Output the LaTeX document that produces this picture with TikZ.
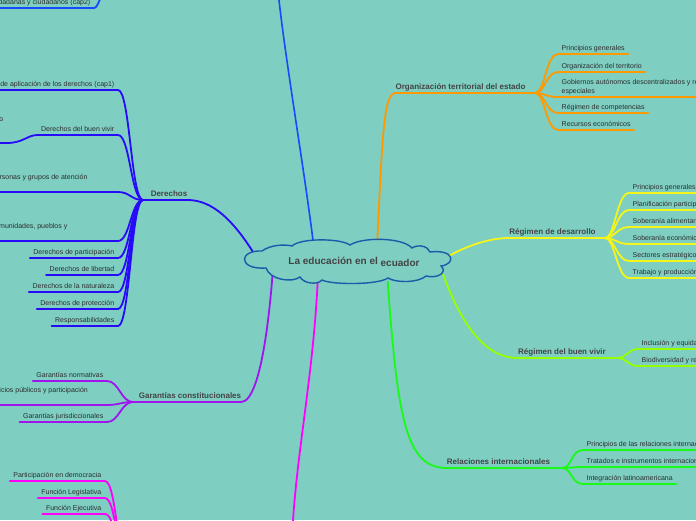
\documentclass[tikz,border=0pt]{standalone}
\usepackage{fontspec}
\setmainfont{Liberation Sans}
\usetikzlibrary{shapes.geometric}

\definecolor{bgteal}{RGB}{126,206,194}
\definecolor{cloudblue}{RGB}{26,92,170}
\definecolor{txtgray}{RGB}{45,45,45}
\definecolor{lblgray}{RGB}{68,68,68}
\definecolor{elemblue}{RGB}{20,75,255}
\definecolor{derblue}{RGB}{40,10,250}
\definecolor{orgorange}{RGB}{255,153,0}
\definecolor{desyellow}{RGB}{245,245,25}
\definecolor{bvlime}{RGB}{150,255,0}
\definecolor{relgreen}{RGB}{25,250,25}
\definecolor{partmagenta}{RGB}{255,0,255}
\definecolor{garpurple}{RGB}{160,20,240}

\newcommand{\wrapbox}[1]{\parbox[b]{175pt}{\raggedright\hyphenpenalty=10000 #1}}
\newcommand{\linesbox}[1]{\begin{tabular}[b]{@{}l@{}}#1\end{tabular}}

\begin{document}
\begin{tikzpicture}[x=1pt, y=-1pt,
  leaf/.style={font=\fontsize{7}{9}\selectfont, text=txtgray, inner xsep=3.5pt, inner ysep=0pt, text depth=3.5pt},
  lbl/.style={font=\bfseries\fontsize{8}{10}\selectfont, text=lblgray, inner sep=0pt, text depth=3pt},
  wire/.style={line width=1.8pt, line cap=round}]
\useasboundingbox (0,0) rectangle (696,520);
\clip (0,0) rectangle (696,520);
\fill[bgteal] (0,0) rectangle (696,520);

% centre: the ellipse carries the anchors, the cloud outline is drawn on top
\node[ellipse, minimum width=206pt, minimum height=44pt, inner sep=0pt] (root) at (349,261) {};

% branch labels and junctions
\node[lbl, anchor=south] (org) at (460.5,93) {Organización territorial del estado};
\node[lbl, anchor=south] (des) at (552.5,238) {Régimen de desarrollo};
\node[lbl, anchor=south] (bv) at (562,358) {Régimen del buen vivir};
\node[lbl, anchor=south] (rel) at (498.5,468) {Relaciones internacionales};
\node[lbl, anchor=south] (der) at (169,200) {Derechos};
\node[lbl, anchor=south] (gar) at (190,402) {Garantías constitucionales};
\coordinate (orgJ) at (535,93);
\coordinate (desJ) at (605,238);
\coordinate (bvJ) at (617,358);
\coordinate (relJ) at (562,468);
\coordinate (derJ) at (143,200);
\coordinate (garJ) at (133,402);
\coordinate (elemN) at (277,-20);
\coordinate (elemJ) at (118,-45);
\coordinate (partN) at (292,540);
\coordinate (partJ) at (130,575);

% main branches
\draw[wire, elemblue, line width=1.6pt] (root.150) .. controls +(-10,-80) and +(5,60) .. (elemN);
\draw[wire, orgorange] (root.37) .. controls +(5,-100) and +(-12,0) .. (org.south west) -- (orgJ);
\draw[wire, desyellow] (root.3) .. controls +(18,-10) and +(-20,0) .. (des.south west) -- (desJ);
\draw[wire, bvlime] (root.354) .. controls +(18,50) and +(-35,0) .. (bv.south west) -- (bvJ);
\draw[wire, relgreen] (root.332) .. controls +(10,140) and +(-40,0) .. (rel.south west) -- (relJ);
\draw[wire, partmagenta] (root.214) .. controls +(-5,100) and +(3,-80) .. (partN);
\draw[wire, garpurple] (root.191) .. controls +(-8,100) and +(10,0) .. (gar.south east) -- (garJ);
\draw[wire, derblue] (root.175) .. controls +(-25,-40) and +(20,0) .. (der.south east) -- (derJ);

% cloud outline
\draw[cloudblue, line width=1.4pt, fill=bgteal]
  (266,268) .. controls (238,270) and (238,250) .. (262,251)
  .. controls (270,245) and (284,244) .. (292,246)
  .. controls (300,238) and (340,238) .. (350,245)
  .. controls (362,237) and (402,237) .. (412,248)
  .. controls (418,244) and (428,246) .. (430,252)
  .. controls (455,249) and (456,264) .. (441,266)
  .. controls (448,272) and (438,279) .. (426,276)
  .. controls (418,283) and (396,283) .. (388,278)
  .. controls (378,285) and (332,285) .. (322,280)
  .. controls (318,285) and (304,284) .. (300,277)
  .. controls (292,283) and (270,280) .. (266,268) -- cycle;
\node[font=\bfseries\fontsize{10}{12}\selectfont, text=lblgray] (title) at (354,262) {La educación en el \raisebox{-1.3pt}{ecuador}};

% Organizacion territorial
\node[leaf, anchor=south west] (org1) at (558,54) {Principios generales};
\node[leaf, anchor=south west] (org2) at (558,72) {Organización del territorio};
\node[leaf, anchor=south west] (org3) at (558,97) {\wrapbox{Gobiernos autónomos descentralizados y regímenes especiales}};
\node[leaf, anchor=south west] (org4) at (558,113) {Régimen de competencias};
\node[leaf, anchor=south west] (org5) at (558,130) {Recursos económicos};
\draw[wire, orgorange] (orgJ) .. controls +(10,0) and +(-12,0) .. (org1.south west) -- (org1.south east);
\draw[wire, orgorange] (orgJ) .. controls +(10,0) and +(-12,0) .. (org2.south west) -- (org2.south east);
\draw[wire, orgorange] (orgJ) .. controls +(10,0) and +(-12,0) .. (org3.south west) -- (org3.south east);
\draw[wire, orgorange] (orgJ) .. controls +(10,0) and +(-12,0) .. (org4.south west) -- (org4.south east);
\draw[wire, orgorange] (orgJ) .. controls +(10,0) and +(-12,0) .. (org5.south west) -- (org5.south east);

% Regimen de desarrollo
\node[leaf, anchor=south west] (des1) at (629,193) {Principios generales};
\node[leaf, anchor=south west] (des2) at (629,210) {Planificación participativa para el desarrollo};
\node[leaf, anchor=south west] (des3) at (629,227) {Soberanía alimentaria};
\node[leaf, anchor=south west] (des4) at (629,244) {Soberanía económica};
\node[leaf, anchor=south west] (des5) at (629,261) {Sectores estratégicos, servicios y empresas públicas};
\node[leaf, anchor=south west] (des6) at (629,278) {Trabajo y producción};
\draw[wire, desyellow] (desJ) .. controls +(10,0) and +(-12,0) .. (des1.south west) -- (des1.south east);
\draw[wire, desyellow] (desJ) .. controls +(10,0) and +(-12,0) .. (des2.south west) -- (des2.south east);
\draw[wire, desyellow] (desJ) .. controls +(10,0) and +(-12,0) .. (des3.south west) -- (des3.south east);
\draw[wire, desyellow] (desJ) .. controls +(10,0) and +(-12,0) .. (des4.south west) -- (des4.south east);
\draw[wire, desyellow] (desJ) .. controls +(10,0) and +(-12,0) .. (des5.south west) -- (des5.south east);
\draw[wire, desyellow] (desJ) .. controls +(10,0) and +(-12,0) .. (des6.south west) -- (des6.south east);

% Regimen del buen vivir
\node[leaf, anchor=south west] (bv1) at (638,349) {Inclusión y equidad};
\node[leaf, anchor=south west] (bv2) at (638,366) {Biodiversidad y recursos naturales};
\draw[wire, bvlime] (bvJ) .. controls +(10,0) and +(-10,0) .. (bv1.south west) -- (bv1.south east);
\draw[wire, bvlime] (bvJ) .. controls +(10,0) and +(-10,0) .. (bv2.south west) -- (bv2.south east);

% Relaciones internacionales
\node[leaf, anchor=south west] (rel1) at (583,450) {Principios de las relaciones internacionales};
\node[leaf, anchor=south west] (rel2) at (583,467) {Tratados e instrumentos internacionales};
\node[leaf, anchor=south west] (rel3) at (583,484) {Integración latinoamericana};
\draw[wire, relgreen] (relJ) .. controls +(10,0) and +(-12,0) .. (rel1.south west) -- (rel1.south east);
\draw[wire, relgreen] (relJ) .. controls +(10,0) and +(-12,0) .. (rel2.south west) -- (rel2.south east);
\draw[wire, relgreen] (relJ) .. controls +(10,0) and +(-12,0) .. (rel3.south west) -- (rel3.south east);

% Derechos
\node[leaf, anchor=south east] (der1) at (118,90) {Principios de aplicación de los derechos (cap1)};
\node[leaf, anchor=south east] (der2) at (118,135) {Derechos del buen vivir};
\node[leaf, anchor=south east] (der2a) at (7,143) {\linesbox{Educación como un derecho\\de todas las personas\\a lo largo de su vida}};
\node[leaf, anchor=south east] (der3) at (118,192) {\wrapbox{Derechos de las personas y grupos de atención prioritaria}};
\node[leaf, anchor=south east] (der4) at (118,241) {\wrapbox{Derechos de las comunidades, pueblos y nacionalidades}};
\node[leaf, anchor=south east] (der5) at (118,258) {Derechos de participación};
\node[leaf, anchor=south east] (der6) at (118,275) {Derechos de libertad};
\node[leaf, anchor=south east] (der7) at (118,292) {Derechos de la naturaleza};
\node[leaf, anchor=south east] (der8) at (118,309) {Derechos de protección};
\node[leaf, anchor=south east] (der9) at (118,326) {Responsabilidades};
\draw[wire, derblue] (der1.south west) -- (der1.south east) .. controls +(12,0) and +(-12,0) .. (derJ);
\draw[wire, derblue] (der2.south west) -- (der2.south east) .. controls +(12,0) and +(-12,0) .. (derJ);
\draw[wire, derblue] (der2a.south west) -- (der2a.south east) .. controls +(16,0) and +(-10,0) .. (der2.south west);
\draw[wire, derblue] (der3.south west) -- (der3.south east) .. controls +(12,0) and +(-12,0) .. (derJ);
\draw[wire, derblue] (der4.south west) -- (der4.south east) .. controls +(12,0) and +(-12,0) .. (derJ);
\draw[wire, derblue] (der5.south west) -- (der5.south east) .. controls +(12,0) and +(-12,0) .. (derJ);
\draw[wire, derblue] (der6.south west) -- (der6.south east) .. controls +(12,0) and +(-12,0) .. (derJ);
\draw[wire, derblue] (der7.south west) -- (der7.south east) .. controls +(12,0) and +(-12,0) .. (derJ);
\draw[wire, derblue] (der8.south west) -- (der8.south east) .. controls +(12,0) and +(-12,0) .. (derJ);
\draw[wire, derblue] (der9.south west) -- (der9.south east) .. controls +(12,0) and +(-12,0) .. (derJ);

% Garantias constitucionales
\node[leaf, anchor=south east] (gar1) at (107,381) {Garantías normativas};
\node[leaf, anchor=south east] (gar2) at (107,405) {\wrapbox{Políticas públicas, servicios públicos y participación ciudadana}};
\node[leaf, anchor=south east] (gar3) at (107,422) {Garantías jurisdiccionales};
\draw[wire, garpurple] (gar1.south west) -- (gar1.south east) .. controls +(12,0) and +(-12,0) .. (garJ);
\draw[wire, garpurple] (gar2.south west) -- (gar2.south east) .. controls +(12,0) and +(-12,0) .. (garJ);
\draw[wire, garpurple] (gar3.south west) -- (gar3.south east) .. controls +(12,0) and +(-12,0) .. (garJ);

% Participacion (below the page)
\node[leaf, anchor=south east] (part1) at (105,481) {Participación en democracia};
\node[leaf, anchor=south east] (part2) at (105,498) {Función Legislativa};
\node[leaf, anchor=south east] (part3) at (105,514) {Función Ejecutiva};
\draw[wire, partmagenta] (part1.south west) -- (part1.south east) .. controls +(12,0) and +(-12,0) .. (partJ);
\draw[wire, partmagenta] (part2.south west) -- (part2.south east) .. controls +(12,0) and +(-12,0) .. (partJ);
\draw[wire, partmagenta] (part3.south west) -- (part3.south east) .. controls +(12,0) and +(-12,0) .. (partJ);

% Elementos constitutivos (above the page)
\node[leaf, anchor=south east] (elem2) at (94,8) {Ciudadanas y ciudadanos (cap2)};
\draw[wire, elemblue] (elem2.south west) -- (elem2.south east) .. controls +(8,0) and +(-10,0) .. (elemJ);
\end{tikzpicture}
\end{document}
